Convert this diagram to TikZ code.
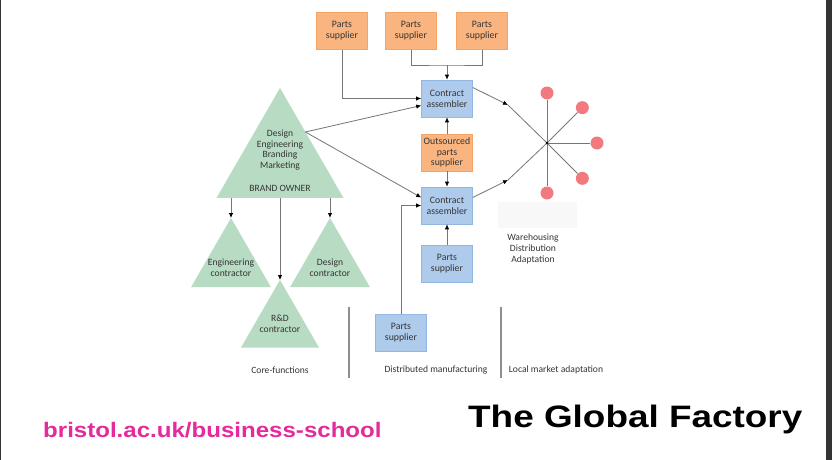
\documentclass[tikz,border=0pt]{standalone}
\usepackage{fontspec}
\setmainfont{Carlito}
\newfontfamily\headfont{Liberation Sans}
\usetikzlibrary{arrows.meta,shapes.geometric,calc}
\definecolor{ink}{HTML}{353535}
\definecolor{wire}{HTML}{767676}
\definecolor{partsorange}{HTML}{F9B47F}
\definecolor{partsedge}{HTML}{F3A466}
\definecolor{asmblue}{HTML}{AECBEC}
\definecolor{asmedge}{HTML}{92B7E2}
\definecolor{leaf}{HTML}{B7DBC3}
\definecolor{market}{HTML}{F27A7E}
\definecolor{divider}{HTML}{8E8E8E}
\definecolor{haze}{HTML}{F8F8F8}
\definecolor{edge}{HTML}{333333}
\definecolor{uobpink}{HTML}{E42A9C}

\begin{document}
\begin{tikzpicture}[x=1pt,y=-1pt,
      box/.style={rectangle,minimum width=51pt,minimum height=37pt,inner sep=1pt,
        align=center,line width=0.6pt,font=\fontsize{9.8}{10.8}\selectfont,text=ink},
      orangebox/.style={box,fill=partsorange,draw=partsedge},
      bluebox/.style={box,fill=asmblue,draw=asmedge},
      tri/.style={regular polygon,regular polygon sides=3,fill=leaf,inner sep=0pt,outer sep=0pt},
      lbl/.style={font=\fontsize{9.6}{10.8}\selectfont,text=ink,align=center},
      link/.style={draw=wire,line width=0.8pt},
      arr/.style={link,-{Latex[length=5pt,width=4.5pt,black]}},
      marketdot/.style={circle,fill=market,minimum size=13pt,inner sep=0pt}]
    \useasboundingbox (0,0) rectangle (832,460);
    \fill[white] (0,0) rectangle (832,460);
    \fill[edge] (0,0) rectangle (1.3,460);
    \fill[edge] (826,0) rectangle (832,460);

    % core functions: brand owner and its contractors
    \node[tri,minimum size=146.6pt] (brand) at (280,161.3) {};
    \node[tri,minimum size=92pt] (engc) at (231,264) {};
    \node[tri,minimum size=92pt] (desc) at (330,264) {};
    \node[tri,minimum size=90pt] (rdc) at (280,325) {};
    \node[lbl] (brandtxt) at (280,150) {Design\\Engineering\\Branding\\Marketing};
    \node[lbl] (brandname) at (280,188) {BRAND OWNER};
    \node[lbl] (engtxt) at (231,268) {Engineering\\contractor};
    \node[lbl] (destxt) at (330,268) {Design\\contractor};
    \node[lbl] (rdtxt) at (280,324) {R\&D\\contractor};

    \draw[arr] (engc.corner 1 |- brand.corner 2) -- (engc.corner 1);
    \draw[arr] (rdc.corner 1 |- brand.corner 2) -- (rdc.corner 1);
    \draw[arr] (desc.corner 1 |- brand.corner 2) -- (desc.corner 1);

    % distributed manufacturing
    \node[orangebox] (ps1) at (342,31) {Parts\\supplier};
    \node[orangebox] (ps2) at (411,31) {Parts\\supplier};
    \node[orangebox] (ps3) at (482,31) {Parts\\supplier};
    \node[bluebox] (ca1) at (447,98.5) {Contract\\assembler};
    \node[orangebox] (out) at (447,152.5) {Outsourced\\parts\\supplier};
    \node[bluebox] (ca2) at (447,205.5) {Contract\\assembler};
    \node[bluebox] (ps4) at (447,263.5) {Parts\\supplier};
    \node[bluebox] (ps5) at (401,332.5) {Parts\\supplier};

    \coordinate (join) at (447,65);
    \draw[link] (ps2.south) |- (join) -| (ps3.south);
    \draw[arr] (join) -- (ca1.north);
    \draw[arr] (ps1.south) |- (ca1.west);
    \coordinate (bo) at ($(brand.corner 1)!0.4!(brand.corner 3)$);
    \draw[arr] (bo) -- ([yshift=-7pt]ca1.west);
    \draw[arr] (bo) -- ([yshift=8pt]ca2.west);
    \draw[arr] (out.north) -- (ca1.south);
    \draw[arr] (out.south) -- (ca2.north);
    \draw[arr] (ps4.north) -- (ca2.south);
    \draw[arr] (ps5.north) |- (ca2.west);

    % local market adaptation
    \coordinate (hub) at (547,143);
    \coordinate (bend1) at (508,105);
    \coordinate (bend2) at (508,180);
    \draw[arr] ([yshift=11pt]ca1.east) -- (bend1);
    \draw[link] (bend1) -- (hub);
    \draw[arr] ([yshift=8pt]ca2.east) -- (bend2);
    \draw[link] (bend2) -- (hub);
    \foreach \a [count=\i] in {-90,-45,0,45,90} {
      \node[marketdot] (mkt\i) at ($(hub)+(\a:50)$) {};
      \draw[link] (hub) -- (mkt\i);
    }
    \fill[black] (hub) circle (1.3pt);
    \fill[haze] (498,202) rectangle (577,228);
    \node[lbl] (wda) at (533,249) {Warehousing\\Distribution\\Adaptation};

    % column dividers and captions
    \draw[divider,line width=1.2pt] (349,307) -- (349,378);
    \draw[divider,line width=1.2pt] (501,307) -- (501,378);
    \node[lbl] (corecap) at (280,370) {Core-functions};
    \node[lbl] (distcap) at (436,370) {Distributed manufacturing};
    \node[lbl] (localcap) at (556,370) {Local market adaptation};

    % slide footer
    \node[anchor=base west,inner sep=0pt] (url) at (43,437)
      {\scalebox{1.146}[1]{\headfont\bfseries\fontsize{21}{24}\selectfont\color{uobpink}bristol.ac.uk/business-school}};
    \node[anchor=base west,inner sep=0pt] (title) at (468,427)
      {\scalebox{1.19}[1]{\headfont\bfseries\fontsize{31}{34}\selectfont The Global Factory}};
  \end{tikzpicture}
\end{document}
